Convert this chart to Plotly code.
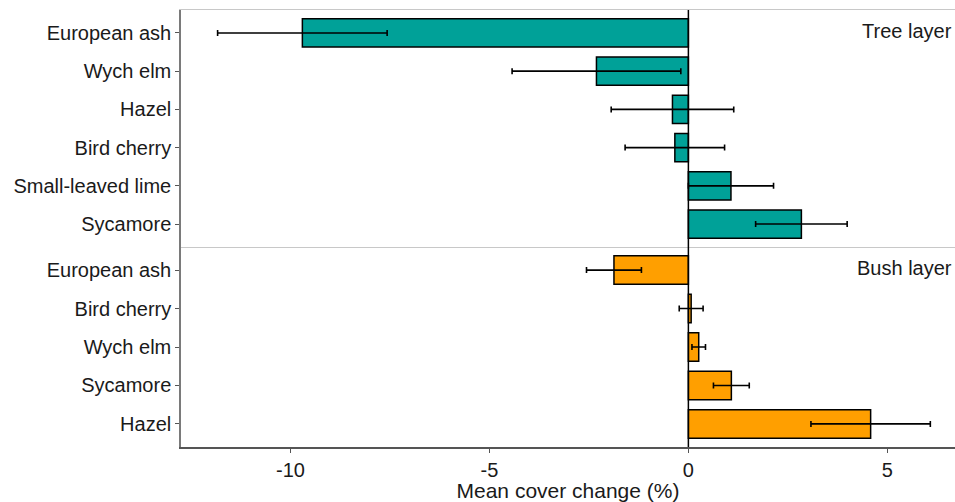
import plotly.graph_objects as go
from plotly.subplots import make_subplots

tree_species = ["European ash", "Wych elm", "Hazel", "Bird cherry", "Small-leaved lime", "Sycamore"]
tree_mean = [-9.70, -2.31, -0.40, -0.34, 1.07, 2.84]
tree_err = [2.13, 2.12, 1.54, 1.25, 1.07, 1.15]

bush_species = ["European ash", "Bird cherry", "Wych elm", "Sycamore", "Hazel"]
bush_mean = [-1.87, 0.07, 0.26, 1.08, 4.58]
bush_err = [0.69, 0.30, 0.17, 0.45, 1.50]

x_ticks = [-10, -5, 0, 5]

FONT = "Liberation Sans, Arial, sans-serif"
TEAL = "#00A198"
ORANGE = "#FF9F00"

fig = make_subplots(rows=2, cols=1, shared_xaxes=True, vertical_spacing=0,
                    row_heights=[237, 200])

fig.add_trace(go.Bar(
    y=tree_species, x=tree_mean, orientation="h", width=0.74,
    marker=dict(color=TEAL, line=dict(color="black", width=1.5)),
    error_x=dict(type="data", array=tree_err, visible=True, color="black",
                 thickness=1.6, width=3),
    showlegend=False), row=1, col=1)

fig.add_trace(go.Bar(
    y=bush_species, x=bush_mean, orientation="h", width=0.74,
    marker=dict(color=ORANGE, line=dict(color="black", width=1.5)),
    error_x=dict(type="data", array=bush_err, visible=True, color="black",
                 thickness=1.6, width=3),
    showlegend=False), row=2, col=1)

xr = [-12.75, 6.7]
split = 200 / 437

fig.update_layout(
    width=955, height=502,
    margin=dict(l=181, r=0, t=10, b=55),
    plot_bgcolor="white", paper_bgcolor="white",
    font=dict(family=FONT, size=20, color="#1a1a1a"),
    xaxis=dict(range=xr, showgrid=False, zeroline=False, showline=True, mirror=True,
               linecolor="#c8c8c8", linewidth=1.2, ticks="", showticklabels=False),
    xaxis2=dict(range=xr, showgrid=False, zeroline=False, showline=True,
                linecolor="#555555", linewidth=1.5, ticks="outside", ticklen=4,
                tickcolor="#555555", tickvals=x_ticks,
                ticktext=[str(v) for v in x_ticks],
                tickfont=dict(size=20, color="#1a1a1a"),
                title=dict(text="Mean cover change (%)", font=dict(size=21), standoff=2)),
    yaxis=dict(domain=[split, 1], categoryorder="array", categoryarray=tree_species,
               range=[len(tree_species) - 0.4, -0.6], showgrid=False, zeroline=False,
               showline=True, linecolor="#7a7a7a", linewidth=1.5, ticks="outside",
               ticklen=4, tickcolor="#555555", tickfont=dict(size=20, color="#1a1a1a")),
    yaxis2=dict(domain=[0, split], categoryorder="array", categoryarray=bush_species,
                range=[len(bush_species) - 0.4, -0.6], showgrid=False, zeroline=False,
                showline=True, linecolor="#7a7a7a", linewidth=1.5, ticks="outside",
                ticklen=4, tickcolor="#555555", tickfont=dict(size=20, color="#1a1a1a")),
    shapes=[dict(type="line", xref="x2", yref="paper", x0=0, x1=0, y0=0, y1=1,
                 line=dict(color="black", width=1.5), layer="above")],
    annotations=[
        dict(text="Tree layer", xref="paper", yref="paper", x=0.999, y=1 - 21 / 437,
             xanchor="right", yanchor="middle", showarrow=False, font=dict(size=20)),
        dict(text="Bush layer", xref="paper", yref="paper", x=0.999, y=split - 21 / 437,
             xanchor="right", yanchor="middle", showarrow=False, font=dict(size=20)),
    ],
)

fig.write_html("out.html", config={"displayModeBar": False},
               post_script="document.body.style.margin='0';document.body.style.overflow='hidden';")
